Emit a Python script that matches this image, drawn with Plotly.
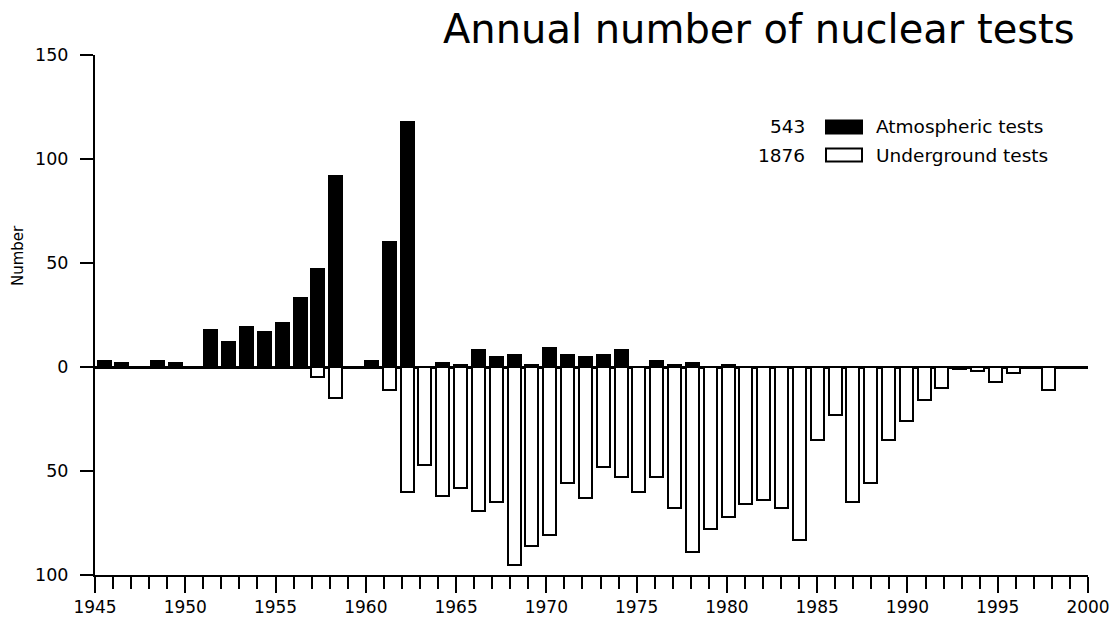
import plotly.graph_objects as go

# ---- data ----
years = list(range(1945, 1999))
atmospheric = [3, 2, 0, 3, 2, 0, 18, 12, 19, 17,      # 1945-1954
               21, 33, 47, 92, 0, 3, 60, 118, 0, 2,    # 1955-1964
               1, 8, 5, 6, 1, 9, 6, 5, 6, 8,           # 1965-1974
               0, 3, 1, 2, 0, 1, 0, 0, 0, 0,           # 1975-1984
               0, 0, 0, 0, 0, 0, 0, 0, 0, 0,           # 1985-1994
               0, 0, 0, 0]                             # 1995-1998
underground = [0, 0, 0, 0, 0, 0, 0, 0, 0, 0,           # 1945-1954
               0, 0, 5, 15, 0, 0, 11, 60, 47, 62,      # 1955-1964
               58, 69, 65, 95, 86, 81, 56, 63, 48, 53, # 1965-1974
               60, 53, 68, 89, 78, 72, 66, 64, 68, 83, # 1975-1984
               35, 23, 65, 56, 35, 26, 16, 10, 1, 2,   # 1985-1994
               7, 3, 0, 11]                            # 1995-1998
legend_counts = ["543", "1876"]
legend_names = ["Atmospheric tests", "Underground tests"]
y_tickvals = [-100, -50, 0, 50, 100, 150]
y_ticktext = ["100", "50", "0", "50", "100", "150"]
title_text = "Annual number of nuclear tests"
y_title = "Number"

FONT = "DejaVu Sans"
W, H = 1111, 618
OFF = 0                      # body margin removed via post_script
PW, PH = 993, 520            # plot area in pixels
L, T = 95 - OFF, 55 - OFF
R, B = W - L - PW, H - T - PH


def px_x(p):
    # page pixel -> paper x
    return (p - OFF - L) / PW


def px_y(p):
    # page pixel -> paper y
    return (H - B - (p - OFF)) / PH


fig = go.Figure()
# invisible trace to keep the main tick axis subplot alive
fig.add_trace(go.Scatter(x=[], y=[], xaxis="x", yaxis="y", showlegend=False))

fig.add_trace(go.Bar(
    x=years, y=atmospheric, xaxis="x2", yaxis="y",
    width=0.73, marker=dict(color="black", line=dict(color="black", width=2)),
    showlegend=False, hoverinfo="x+y"))
fig.add_trace(go.Bar(
    x=years, y=[-v for v in underground], xaxis="x2", yaxis="y",
    width=0.73, marker=dict(color="white", line=dict(color="black", width=2)),
    showlegend=False, hoverinfo="x+y"))

shapes = []
annotations = []
# legend drawn manually
row_y = [127, 155]
fills = ["black", "white"]
for i in range(2):
    shapes.append(dict(type="rect", xref="paper", yref="paper",
                       x0=px_x(826), x1=px_x(862),
                       y0=px_y(row_y[i] + 6.5), y1=px_y(row_y[i] - 6.5),
                       fillcolor=fills[i], line=dict(color="black", width=2)))
    annotations.append(dict(text=legend_counts[i], xref="paper", yref="paper",
                            x=px_x(807), y=px_y(row_y[i]), xanchor="right", yanchor="middle",
                            showarrow=False, font=dict(family=FONT, size=18.5, color="black")))
    annotations.append(dict(text=legend_names[i], xref="paper", yref="paper",
                            x=px_x(874), y=px_y(row_y[i]), xanchor="left", yanchor="middle",
                            showarrow=False, font=dict(family=FONT, size=18.5, color="black")))

annotations.append(dict(text=title_text, xref="paper", yref="paper",
                        x=px_x(1077), y=px_y(29), xanchor="right", yanchor="middle",
                        showarrow=False, font=dict(family=FONT, size=40, color="black")))
annotations.append(dict(text=y_title, xref="paper", yref="paper",
                        x=px_x(18), y=px_y(256), xanchor="center", yanchor="middle",
                        textangle=-90, showarrow=False,
                        font=dict(family=FONT, size=15, color="black")))

fig.update_layout(
    width=W, height=H,
    margin=dict(l=L, r=R, t=T, b=B, autoexpand=False),
    paper_bgcolor="white", plot_bgcolor="white",
    barmode="overlay", bargap=0,
    font=dict(family=FONT, size=17, color="black"),
    xaxis=dict(range=[1945, 2000], tick0=1945, dtick=5, ticks="outside",
               ticklen=16, tickwidth=2, tickcolor="black",
               minor=dict(tick0=1945, dtick=1, ticks="outside", ticklen=12,
                          tickwidth=2, tickcolor="black"),
               showline=True, linecolor="black", linewidth=2,
               showgrid=False, zeroline=False, automargin=False,
               ticklabelstandoff=0,
               tickfont=dict(family=FONT, size=17, color="black"),
               fixedrange=True),
    xaxis2=dict(range=[1944.495, 2000.19], overlaying="x", visible=False,
                showgrid=False, zeroline=False, fixedrange=True),
    yaxis=dict(range=[-100, 150], tickvals=y_tickvals, ticktext=y_ticktext,
               ticks="outside", ticklen=13, tickwidth=2, tickcolor="black",
               showline=True, linecolor="black", linewidth=2,
               showgrid=False, zeroline=True, zerolinecolor="black", zerolinewidth=2.5,
               automargin=False, ticklabelstandoff=8,
               tickfont=dict(family=FONT, size=17.5, color="black"),
               fixedrange=True),
    shapes=shapes, annotations=annotations,
)

fig.write_html("out.html", config={"displayModeBar": False},
               post_script="document.body.style.margin='0';document.body.style.overflow='hidden';")
